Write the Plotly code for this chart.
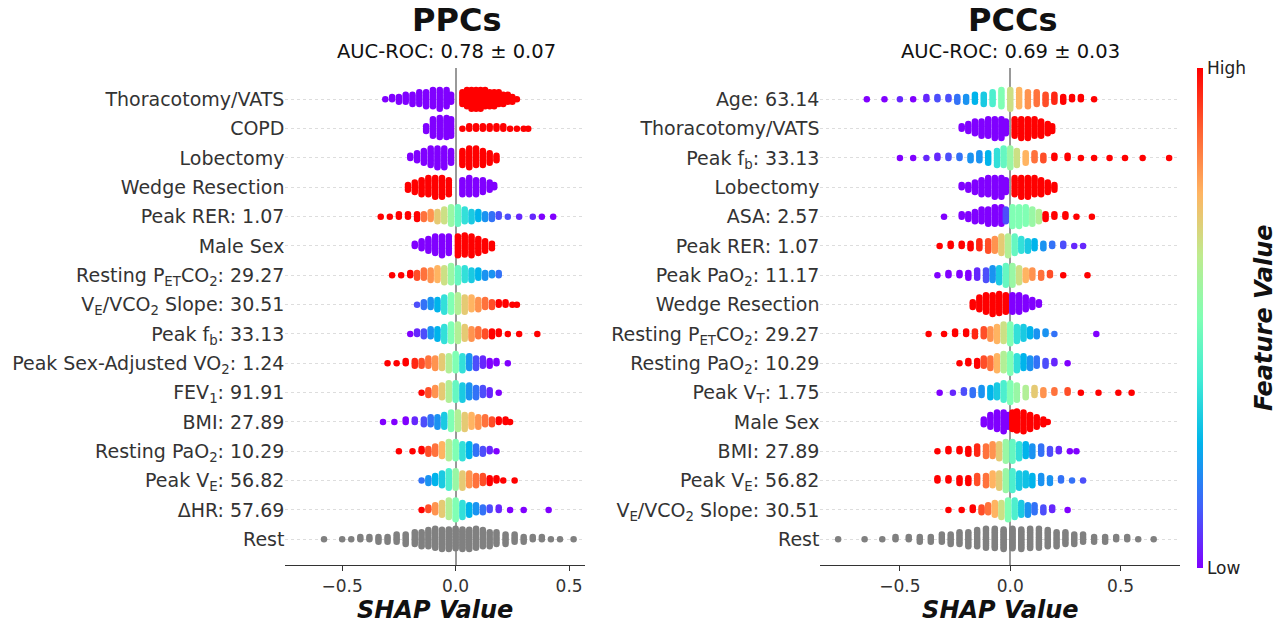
import plotly.graph_objects as go
from collections import defaultdict

# ---------------- data: (shap value, count, normalized feature value) ----------------
ppc_labels = ["Thoracotomy/VATS", "COPD", "Lobectomy", "Wedge Resection", "Peak RER: 1.07", "Male Sex",
              "Resting P<sub>ET</sub>CO<sub>2</sub>: 29.27", "V<sub>E</sub>/VCO<sub>2</sub> Slope: 30.51",
              "Peak f<sub>b</sub>: 33.13", "Peak Sex-Adjusted VO<sub>2</sub>: 1.24", "FEV<sub>1</sub>: 91.91",
              "BMI: 27.89", "Resting PaO<sub>2</sub>: 10.29", "Peak V<sub>E</sub>: 56.82", "ΔHR: 57.69", "Rest"]
pcc_labels = ["Age: 63.14", "Thoracotomy/VATS", "Peak f<sub>b</sub>: 33.13", "Lobectomy", "ASA: 2.57",
              "Peak RER: 1.07", "Peak PaO<sub>2</sub>: 11.17", "Wedge Resection",
              "Resting P<sub>ET</sub>CO<sub>2</sub>: 29.27", "Resting PaO<sub>2</sub>: 10.29",
              "Peak V<sub>T</sub>: 1.75", "Male Sex", "BMI: 27.89", "Peak V<sub>E</sub>: 56.82",
              "V<sub>E</sub>/VCO<sub>2</sub> Slope: 30.51", "Rest"]

ppc_thoracotomy = [(-0.31,1,0),(-0.28,2,0),(-0.25,3,0),(-0.22,4,0),(-0.19,5,0),(-0.16,6,0),(-0.13,7,0),(-0.10,8,0),(-0.07,9,0),(-0.04,8,0),(-0.02,4,0),
                   (0.03,6,1),(0.05,8,1),(0.07,9,1),(0.09,9,1),(0.11,9,1),(0.13,8,1),(0.15,7,1),(0.17,7,1),(0.19,6,1),(0.21,5,1),(0.23,4,1),(0.25,3,1),(0.27,1,1)]
ppc_copd = [(-0.13,3,0),(-0.10,8,0),(-0.07,10,0),(-0.04,10,0),(-0.02,8,0),
            (0.03,1,1),(0.06,2,1),(0.09,2,1),(0.12,2,1),(0.15,2,1),(0.18,2,1),(0.21,2,1),(0.24,1,1),(0.27,1,1),(0.30,1,1),(0.32,1,1)]
ppc_lobectomy = [(-0.20,2,0),(-0.17,4,0),(-0.14,6,0),(-0.11,8,0),(-0.08,9,0),(-0.05,9,0),(-0.02,6,0),
                 (0.03,7,1),(0.06,9,1),(0.09,8,1),(0.12,7,1),(0.15,5,1),(0.18,3,1)]
ppc_wedge = [(-0.21,3,1),(-0.18,5,1),(-0.15,7,1),(-0.12,8,1),(-0.09,9,1),(-0.06,9,1),(-0.03,7,1),
             (0.03,7,0),(0.06,8,0),(0.09,7,0),(0.12,6,0),(0.15,4,0),(0.17,2,0)]
ppc_rer = [(-0.33,1,1),(-0.29,1,1),(-0.25,2,1),(-0.21,2,1),(-0.17,3,1),(-0.14,3,0.85),(-0.11,4,0.8),(-0.08,5,0.7),(-0.05,6,0.65),(-0.02,8,0.55),
           (0.01,8,0.45),(0.04,6,0.35),(0.07,5,0.3),(0.10,4,0.25),(0.13,3,0.2),(0.16,3,0.15),(0.19,2,0.1),(0.23,1,0.1),(0.28,1,0.05),(0.34,1,0.05),(0.38,1,0),(0.43,1,0)]
ppc_male = [(-0.18,2,0),(-0.15,4,0),(-0.12,6,0),(-0.09,8,0),(-0.06,9,0),(-0.03,8,0),
            (0.01,9,1),(0.04,10,1),(0.07,9,1),(0.10,7,1),(0.13,5,1),(0.16,3,1)]
ppc_petco2 = [(-0.28,1,1),(-0.24,1,1),(-0.20,2,1),(-0.17,3,0.9),(-0.14,4,0.85),(-0.11,5,0.8),(-0.08,6,0.75),(-0.05,7,0.65),(-0.02,8,0.55),
              (0.01,7,0.45),(0.04,6,0.35),(0.07,5,0.3),(0.10,4,0.25),(0.13,3,0.2),(0.16,2,0.2),(0.19,2,0.15)]
ppc_vevco2 = [(-0.17,1,0.1),(-0.14,3,0.15),(-0.11,4,0.2),(-0.08,5,0.25),(-0.05,7,0.35),(-0.02,8,0.5),
              (0.01,8,0.6),(0.04,7,0.7),(0.07,6,0.75),(0.10,5,0.8),(0.13,4,0.85),(0.16,3,0.9),(0.19,2,1),(0.22,2,1),(0.25,1,1),(0.27,1,1)]
ppc_fb = [(-0.20,1,0),(-0.17,2,0.05),(-0.14,3,0.1),(-0.11,4,0.2),(-0.08,5,0.25),(-0.05,7,0.35),(-0.02,8,0.5),
          (0.01,8,0.6),(0.04,6,0.7),(0.07,5,0.8),(0.10,4,0.85),(0.13,3,0.9),(0.16,3,1),(0.19,2,1),(0.23,1,1),(0.28,1,1),(0.36,1,1)]
ppc_vo2 = [(-0.30,1,1),(-0.26,1,1),(-0.22,2,1),(-0.18,3,0.95),(-0.15,3,0.9),(-0.12,4,0.85),(-0.09,5,0.8),(-0.06,6,0.7),(-0.03,7,0.6),
           (0.00,8,0.5),(0.03,7,0.35),(0.06,6,0.2),(0.09,5,0.1),(0.12,4,0.05),(0.15,3,0),(0.18,2,0),(0.23,1,0)]
ppc_fev1 = [(-0.15,1,1),(-0.12,3,0.9),(-0.09,4,0.8),(-0.06,6,0.7),(-0.03,8,0.6),
            (0.00,8,0.45),(0.03,7,0.3),(0.06,6,0.2),(0.09,5,0.15),(0.12,4,0.1),(0.15,3,0.05),(0.19,1,0)]
ppc_bmi = [(-0.32,1,0),(-0.27,1,0),(-0.22,2,0),(-0.18,2,0.05),(-0.14,3,0.1),(-0.11,4,0.15),(-0.08,5,0.2),(-0.05,6,0.3),(-0.02,8,0.5),
           (0.01,8,0.6),(0.04,7,0.7),(0.07,6,0.75),(0.10,5,0.8),(0.13,4,0.85),(0.16,3,0.9),(0.19,2,1),(0.22,2,1),(0.24,1,1)]
ppc_pao2 = [(-0.25,1,1),(-0.19,1,1),(-0.15,2,1),(-0.12,3,0.9),(-0.09,4,0.85),(-0.06,6,0.75),(-0.03,8,0.6),
            (0.00,8,0.5),(0.03,7,0.35),(0.06,6,0.25),(0.09,4,0.15),(0.12,3,0.1),(0.15,2,0.05),(0.18,1,0)]
ppc_ve = [(-0.15,1,0.15),(-0.12,3,0.2),(-0.09,4,0.25),(-0.06,6,0.3),(-0.03,8,0.4),
          (0.00,8,0.55),(0.03,7,0.7),(0.06,6,0.8),(0.09,5,0.85),(0.12,4,0.9),(0.15,3,1),(0.18,2,1),(0.21,1,1),(0.26,1,1)]
ppc_dhr = [(-0.15,1,1),(-0.12,2,0.9),(-0.09,4,0.8),(-0.06,6,0.7),(-0.03,8,0.6),
           (0.00,9,0.5),(0.03,7,0.35),(0.06,5,0.25),(0.09,4,0.2),(0.12,3,0.15),(0.15,2,0.1),(0.19,2,0.05),(0.24,1,0),(0.30,1,0),(0.41,1,0)]
ppc_rest = [(-0.58,1,0),(-0.50,1,0),(-0.46,1,0),(-0.42,2,0),(-0.38,2,0),(-0.34,3,0),(-0.30,3,0),(-0.26,4,0),(-0.22,5,0),(-0.18,6,0),(-0.15,7,0),(-0.12,8,0),(-0.09,10,0),(-0.06,11,0),(-0.03,13,0),
             (0.00,14,0),(0.03,13,0),(0.06,11,0),(0.09,10,0),(0.12,8,0),(0.15,7,0),(0.18,6,0),(0.22,5,0),(0.26,4,0),(0.30,3,0),(0.34,2,0),(0.38,2,0),(0.42,1,0),(0.46,1,0),(0.52,1,0)]

pcc_age = [(-0.65,1,0),(-0.57,1,0),(-0.50,1,0.05),(-0.44,1,0),(-0.38,2,0.05),(-0.33,2,0.1),(-0.28,2,0.1),(-0.24,3,0.15),(-0.20,3,0.2),(-0.16,4,0.25),(-0.12,5,0.3),(-0.08,6,0.4),(-0.04,8,0.5),
           (0.00,9,0.65),(0.04,8,0.75),(0.08,7,0.8),(0.12,6,0.85),(0.16,5,0.9),(0.20,4,0.95),(0.24,3,1),(0.28,2,1),(0.32,2,1),(0.38,1,1)]
pcc_thoracotomy = [(-0.22,2,0),(-0.19,4,0),(-0.16,6,0),(-0.13,7,0),(-0.10,8,0),(-0.07,9,0),(-0.04,9,0),(-0.02,6,0),
                   (0.02,8,1),(0.05,9,1),(0.08,9,1),(0.11,8,1),(0.14,7,1),(0.17,5,1),(0.19,3,1)]
pcc_fb = [(-0.50,1,0),(-0.44,1,0),(-0.38,1,0.05),(-0.33,2,0.05),(-0.28,2,0.1),(-0.23,2,0.15),(-0.18,3,0.2),(-0.14,4,0.2),(-0.10,5,0.25),(-0.06,7,0.35),(-0.03,8,0.45),
          (0.00,9,0.55),(0.03,7,0.65),(0.07,5,0.75),(0.11,4,0.85),(0.15,3,0.9),(0.20,2,1),(0.26,2,1),(0.32,1,1),(0.38,1,1),(0.45,1,1),(0.52,1,1),(0.60,1,1),(0.72,1,1)]
pcc_lobectomy = [(-0.22,2,0),(-0.19,3,0),(-0.16,5,0),(-0.13,7,0),(-0.10,8,0),(-0.07,9,0),(-0.04,9,0),(-0.02,6,0),
                 (0.02,8,1),(0.05,9,1),(0.08,9,1),(0.11,8,1),(0.14,7,1),(0.17,5,1),(0.20,3,1)]
pcc_asa = [(-0.30,1,0),(-0.22,2,0),(-0.19,3,0),(-0.16,5,0),(-0.13,6,0),(-0.10,7,0),(-0.07,8,0),(-0.04,8,0),(-0.02,6,0.1),
           (0.01,9,0.5),(0.04,9,0.5),(0.07,8,0.5),(0.10,7,0.55),(0.13,5,0.6),(0.16,3,1),(0.20,2,1),(0.25,2,1),(0.30,1,1),(0.37,1,1)]
pcc_rer = [(-0.32,1,1),(-0.27,2,1),(-0.22,2,1),(-0.18,3,1),(-0.14,4,0.95),(-0.10,5,0.9),(-0.07,6,0.8),(-0.04,8,0.7),(-0.01,9,0.6),
           (0.02,8,0.45),(0.05,6,0.35),(0.08,5,0.3),(0.11,4,0.25),(0.15,3,0.2),(0.19,2,0.15),(0.24,2,0.1),(0.29,1,0.05),(0.33,1,0.05)]
pcc_pao2peak = [(-0.33,1,0),(-0.28,2,0),(-0.23,2,0),(-0.19,3,0),(-0.15,4,0.05),(-0.11,5,0.1),(-0.08,6,0.2),(-0.05,7,0.3),(-0.02,9,0.45),
                (0.01,9,0.55),(0.04,7,0.65),(0.07,5,0.75),(0.10,4,0.8),(0.14,3,0.85),(0.18,2,0.9),(0.24,1,1),(0.35,1,1),(0.80,1,1)]
pcc_wedge = [(-0.17,3,1),(-0.14,6,1),(-0.11,8,1),(-0.08,9,1),(-0.05,10,1),(-0.02,8,1),
             (0.01,8,0),(0.04,8,0),(0.07,6,0),(0.10,4,0),(0.13,2,0)]
pcc_petco2 = [(-0.37,1,1),(-0.30,1,1),(-0.25,2,1),(-0.20,2,1),(-0.16,3,0.95),(-0.12,4,0.9),(-0.09,5,0.8),(-0.06,7,0.75),(-0.03,8,0.65),
              (0.00,9,0.5),(0.03,7,0.35),(0.06,6,0.3),(0.09,4,0.25),(0.12,3,0.2),(0.16,2,0.2),(0.20,1,0.15),(0.39,1,0)]
pcc_pao2rest = [(-0.23,1,1),(-0.19,2,1),(-0.15,3,1),(-0.12,4,0.9),(-0.09,5,0.85),(-0.06,7,0.75),(-0.03,8,0.6),
                (0.00,9,0.5),(0.03,7,0.35),(0.06,6,0.25),(0.09,5,0.2),(0.12,4,0.15),(0.16,3,0.1),(0.20,2,0.05),(0.26,1,0)]
pcc_vt = [(-0.32,1,0),(-0.26,1,0.05),(-0.21,2,0.1),(-0.17,3,0.15),(-0.13,4,0.2),(-0.09,5,0.25),(-0.06,6,0.3),(-0.03,8,0.4),
          (0.00,9,0.5),(0.03,7,0.55),(0.07,5,0.6),(0.11,4,0.7),(0.15,3,0.8),(0.20,2,0.85),(0.26,2,0.9),(0.32,1,1),(0.40,1,1),(0.49,1,1),(0.55,1,1)]
pcc_male = [(-0.12,3,0),(-0.09,6,0),(-0.06,8,0),(-0.03,9,0),(-0.01,6,0),
            (0.01,8,1),(0.03,10,1),(0.06,9,1),(0.09,7,1),(0.12,5,1),(0.15,3,1),(0.17,1,1)]
pcc_bmi = [(-0.33,1,1),(-0.28,2,1),(-0.23,2,1),(-0.19,3,1),(-0.15,4,0.95),(-0.11,5,0.85),(-0.08,6,0.8),(-0.05,7,0.7),(-0.02,9,0.55),
           (0.01,9,0.45),(0.04,7,0.35),(0.07,6,0.25),(0.10,5,0.2),(0.14,4,0.15),(0.18,3,0.1),(0.22,2,0.05),(0.27,1,0),(0.30,1,0)]
pcc_ve = [(-0.33,2,1),(-0.28,2,1),(-0.23,3,1),(-0.19,3,1),(-0.15,4,0.9),(-0.11,5,0.85),(-0.08,6,0.75),(-0.05,7,0.7),(-0.02,9,0.55),
          (0.01,9,0.4),(0.04,7,0.3),(0.07,6,0.28),(0.10,5,0.25),(0.14,4,0.2),(0.18,3,0.2),(0.23,2,0.15),(0.28,1,0.15),(0.33,1,0.1)]
pcc_vevco2 = [(-0.28,1,1),(-0.22,1,1),(-0.17,2,1),(-0.13,3,0.9),(-0.10,4,0.85),(-0.07,6,0.75),(-0.04,7,0.65),(-0.01,9,0.5),
              (0.02,8,0.4),(0.05,6,0.3),(0.08,5,0.2),(0.11,4,0.15),(0.15,3,0.1),(0.19,2,0.05),(0.26,1,0)]
pcc_rest = [(-0.78,1,0),(-0.66,1,0),(-0.58,1,0),(-0.52,2,0),(-0.46,2,0),(-0.41,3,0),(-0.36,3,0),(-0.31,4,0),(-0.27,5,0),(-0.23,6,0),(-0.19,7,0),(-0.15,8,0),(-0.11,10,0),(-0.07,12,0),(-0.03,13,0),
            (0.01,14,0),(0.05,13,0),(0.09,12,0),(0.13,10,0),(0.17,8,0),(0.21,7,0),(0.25,6,0),(0.29,5,0),(0.33,4,0),(0.38,3,0),(0.43,3,0),(0.48,2,0),(0.53,2,0),(0.58,1,0),(0.65,1,0)]

ppc_rows = [ppc_thoracotomy, ppc_copd, ppc_lobectomy, ppc_wedge, ppc_rer, ppc_male, ppc_petco2, ppc_vevco2,
            ppc_fb, ppc_vo2, ppc_fev1, ppc_bmi, ppc_pao2, ppc_ve, ppc_dhr, ppc_rest]
pcc_rows = [pcc_age, pcc_thoracotomy, pcc_fb, pcc_lobectomy, pcc_asa, pcc_rer, pcc_pao2peak, pcc_wedge,
            pcc_petco2, pcc_pao2rest, pcc_vt, pcc_male, pcc_bmi, pcc_ve, pcc_vevco2, pcc_rest]

RAINBOW = [[0, "#8000ff"], [0.125, "#4062fa"], [0.25, "#00b4eb"], [0.375, "#40ebd4"], [0.5, "#80ffb4"],
           [0.625, "#bfeb8e"], [0.75, "#ffb462"], [0.875, "#ff6232"], [1, "#ff0000"]]

def swarm(rows):
    xs, ys, cs, gx, gy = [], [], [], [], []
    n = len(rows)
    for i, row in enumerate(rows):
        base = n - 1 - i
        groups = defaultdict(list)
        for x, c, f in row:
            groups[x].extend([f] * c)
        for x, fs in groups.items():
            m = len(fs)
            s = min(0.08, 0.72 / max(m, 1))
            for k, f in enumerate(fs):
                j = (k + 1) // 2
                off = j * s * (1 if k % 2 else -1)
                if i == n - 1:
                    gx.append(x); gy.append(base + off)
                else:
                    xs.append(x); ys.append(base + off); cs.append(f)
    return xs, ys, cs, gx, gy

fig = go.Figure()
FONT = "DejaVu Sans"
for idx, (rows, labels) in enumerate([(ppc_rows, ppc_labels), (pcc_rows, pcc_labels)]):
    xa = "x" if idx == 0 else "x2"
    ya = "y" if idx == 0 else "y2"
    xs, ys, cs, gx, gy = swarm(rows)
    fig.add_trace(go.Scatter(x=gx, y=gy, mode="markers", xaxis=xa, yaxis=ya, showlegend=False,
                             marker=dict(size=6.5, color="#808080")))
    fig.add_trace(go.Scatter(x=xs, y=ys, mode="markers", xaxis=xa, yaxis=ya, showlegend=False,
                             marker=dict(size=6.5, color=cs, colorscale=RAINBOW, cmin=0, cmax=1,
                                         showscale=(idx == 1),
                                         colorbar=dict(x=1197/1280, xanchor="left", xpad=0, ypad=0,
                                                       y=1-568/626, yanchor="bottom", len=500/626,
                                                       thickness=6, outlinewidth=0, tickvals=[0, 1],
                                                       ticktext=["Low", "High"], ticks="",
                                                       tickfont=dict(size=17, color="#222", family=FONT)))))

yax = dict(range=[-0.886, 16.06], tickvals=list(range(15, -1, -1)), showgrid=True, gridcolor="#dddddd",
           griddash="dot", gridwidth=1, zeroline=False, showline=False, ticks="",
           tickfont=dict(size=19, color="#333", family=FONT))
fig.update_layout(
    width=1280, height=626, plot_bgcolor="white", paper_bgcolor="white", margin=dict(l=0, r=0, t=0, b=0),
    font=dict(family=FONT),
    xaxis=dict(domain=[0.223, 0.457], range=[-0.75, 0.57], tickvals=[-0.5, 0, 0.5], ticktext=["−0.5", "0.0", "0.5"],
               showline=True, linecolor="#333", ticks="outside", ticklen=5, tickcolor="#333",
               zeroline=True, zerolinecolor="#999", zerolinewidth=1.5, showgrid=False,
               tickfont=dict(size=17, color="#333"),
               title=dict(text="<b><i>SHAP Value</i></b>", font=dict(size=24, color="#111"), standoff=4)),
    xaxis2=dict(domain=[0.641, 0.922], range=[-0.86, 0.77], tickvals=[-0.5, 0, 0.5], ticktext=["−0.5", "0.0", "0.5"],
                showline=True, linecolor="#333", ticks="outside", ticklen=5, tickcolor="#333",
                zeroline=True, zerolinecolor="#999", zerolinewidth=1.5, showgrid=False,
                tickfont=dict(size=17, color="#333"),
                title=dict(text="<b><i>SHAP Value</i></b>", font=dict(size=24, color="#111"), standoff=4)),
    yaxis=dict(yax, domain=[0.097, 0.891], ticktext=ppc_labels, anchor="x"),
    yaxis2=dict(yax, domain=[0.097, 0.891], ticktext=pcc_labels, anchor="x2"),
)
annos = [
    dict(text="<b>PPCs</b>", x=456/1280, y=1-20/626, font=dict(size=32, color="#111")),
    dict(text="AUC-ROC: 0.78 ± 0.07", x=446/1280, y=1-52/626, font=dict(size=19.5, color="#111")),
    dict(text="<b>PCCs</b>", x=1012/1280, y=1-20/626, font=dict(size=32, color="#111")),
    dict(text="AUC-ROC: 0.69 ± 0.03", x=1010/1280, y=1-52/626, font=dict(size=19.5, color="#111")),
    dict(text="<b><i>Feature Value</i></b>", x=1264/1280, y=1-318/626, textangle=-90, font=dict(size=24, color="#111")),
]
for a in annos:
    fig.add_annotation(xref="paper", yref="paper", showarrow=False, xanchor="center", yanchor="middle",
                       font_family=FONT, **a)
fig.write_html("out.html", config={"displayModeBar": False},
               post_script="document.body.style.margin='0';document.body.style.overflow='hidden';")
